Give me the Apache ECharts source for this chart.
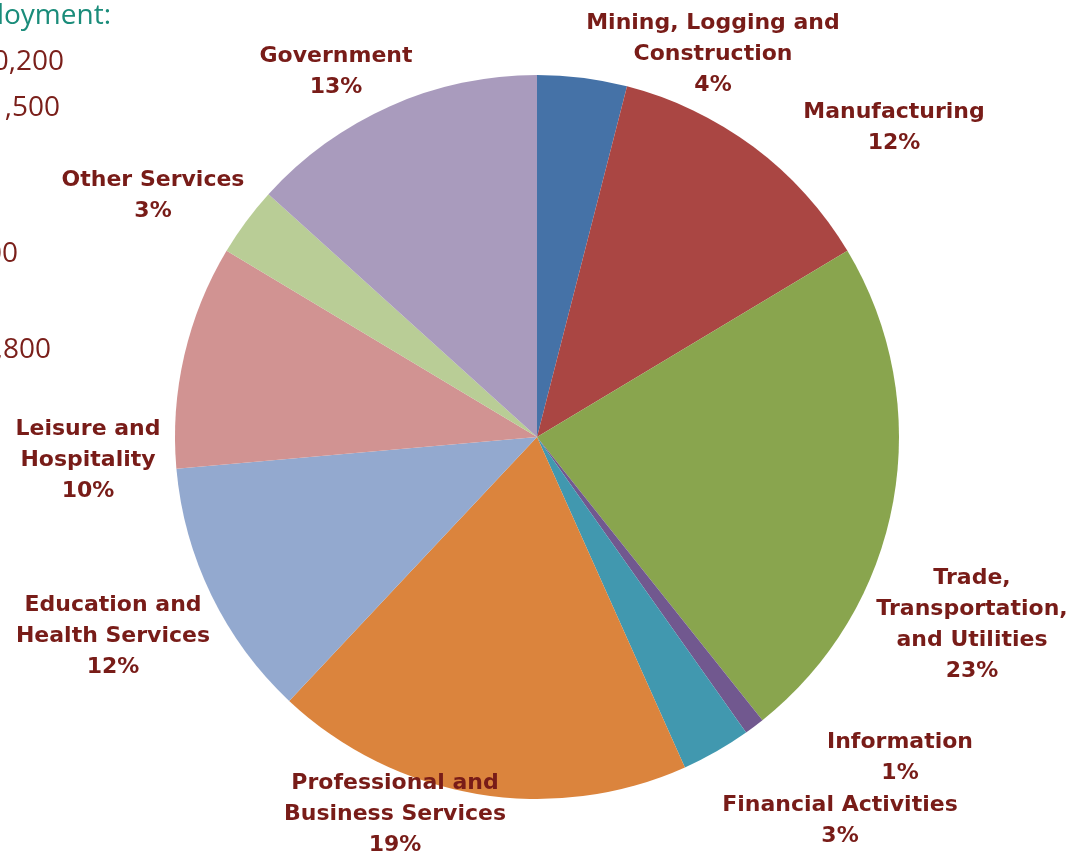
<!DOCTYPE html>
<html>
<head>
<meta charset="utf-8">
<script src="https://cdn.jsdelivr.net/npm/echarts@6/dist/echarts.min.js"></script>
<style>
html,body{margin:0;padding:0;background:#fff;}
#chart{width:1068px;height:860px;}
</style>
</head>
<body>
<div id="chart"></div>
<script>
// Data
var categories = [
  "Mining, Logging and\nConstruction",
  "Manufacturing",
  "Trade,\nTransportation,\nand Utilities",
  "Information",
  "Financial Activities",
  "Professional and\nBusiness Services",
  "Education and\nHealth Services",
  "Leisure and\nHospitality",
  "Other Services",
  "Government"
];
var shares = [4.0, 12.4, 22.9, 0.9, 3.1, 18.7, 11.6, 10.0, 3.1, 13.3];
var colors = ["#4572A7", "#AA4643", "#89A54E", "#71588F", "#4198AF",
              "#DB843D", "#93A9CF", "#D19392", "#B9CD96", "#A99BBD"];
// Label anchor positions (layout only)
var labelPos = [
  [713, 54], [894, 128], [972, 625], [900, 758], [840, 821],
  [395, 814], [113, 636], [88, 460], [153, 196], [336, 72]
];
// Clipped side texts (from neighbouring text box)
var sideTexts = [
  {t: "loyment:", x: 111, y: 16, c: "#1A8C7A"},
  {t: "0,200", x: 64, y: 62, c: "#7A1F1A"},
  {t: "1,500", x: 60, y: 108, c: "#7A1F1A"},
  {t: "00", x: 18, y: 254, c: "#7A1F1A"},
  {t: "1,800", x: 51, y: 350, c: "#7A1F1A"}
];

var chart = echarts.init(document.getElementById('chart'), null, {renderer: 'canvas'});
var data = categories.map(function (c, i) {
  return {name: c, value: shares[i], itemStyle: {color: colors[i]}};
});
var option = {
  animation: false,
  backgroundColor: '#ffffff',
  graphic: sideTexts.map(function (s) {
    return {
      type: 'text', x: s.x, y: s.y,
      style: {text: s.t, fill: s.c, font: '28px "Open Sans", "Noto Sans", sans-serif',
               textAlign: 'right', textVerticalAlign: 'middle'}
    };
  }),
  series: [{
    type: 'pie',
    center: [537, 437],
    radius: 362,
    startAngle: 90,
    clockwise: true,
    avoidLabelOverlap: false,
    data: data,
    itemStyle: {borderWidth: 0},
    label: {
      show: true,
      position: 'outside',
      formatter: function (p) { return p.name + '\n' + Math.round(p.percent) + '%'; },
      color: '#781C18',
      fontFamily: '"DejaVu Sans", sans-serif',
      fontWeight: 'bold',
      fontSize: 22,
      lineHeight: 31,
      align: 'center'
    },
    labelLine: {show: false},
    labelLayout: function (p) {
      var pos = labelPos[p.dataIndex];
      return {x: pos[0], y: pos[1], align: 'center', verticalAlign: 'middle', hideOverlap: false};
    },
    emphasis: {disabled: true}
  }]
};
chart.setOption(option);
</script>
</body>
</html>
